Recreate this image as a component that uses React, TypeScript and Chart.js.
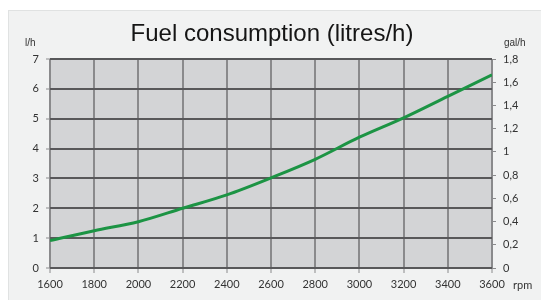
import React, { useEffect, useRef } from "react";
import { Chart, registerables } from "chart.js";

Chart.register(...registerables);

const rpm = [1600, 1800, 2000, 2200, 2400, 2600, 2800, 3000, 3200, 3400, 3600];
const litresPerHour = [0.92, 1.25, 1.55, 2.0, 2.45, 3.02, 3.64, 4.38, 5.03, 5.75, 6.47];
const leftTicks = [0, 1, 2, 3, 4, 5, 6, 7];
const rightTicks = [0, 0.2, 0.4, 0.6, 0.8, 1, 1.2, 1.4, 1.6, 1.8];

const titleText = "Fuel consumption (litres/h)";
const leftUnit = "l/h";
const rightUnit = "gal/h";
const xUnit = "rpm";

const tickFont = { family: "Lato, 'Open Sans', sans-serif", size: 11 };

function fmtComma(v: number): string {
  if (Math.abs(v - Math.round(v)) < 1e-9) return String(Math.round(v));
  return v.toFixed(1).replace(".", ",");
}

const decorPlugin = {
  id: "decor",
  beforeDraw(chart: any) {
    const { ctx, chartArea } = chart;
    ctx.save();
    ctx.fillStyle = "#d3d4d6";
    ctx.fillRect(chartArea.left, chartArea.top, chartArea.right - chartArea.left, chartArea.bottom - chartArea.top);
    ctx.restore();
  },
  afterDraw(chart: any) {
    const { ctx } = chart;
    ctx.save();
    ctx.fillStyle = "#151515";
    ctx.font = "24px 'Liberation Sans', Arial, sans-serif";
    ctx.textAlign = "center";
    ctx.textBaseline = "middle";
    ctx.fillText(titleText, 272, 34);
    ctx.fillStyle = "#333";
    ctx.font = "10px 'Liberation Sans', Arial, sans-serif";
    ctx.textAlign = "left";
    ctx.fillText(leftUnit, 25, 43);
    ctx.fillText(rightUnit, 504, 43);
    ctx.font = "11px Lato, 'Open Sans', sans-serif";
    ctx.fillText(xUnit, 513, 285);
    ctx.restore();
  },
};

export default function App() {
  const ref = useRef<HTMLCanvasElement>(null);
  useEffect(() => {
    if (!ref.current) return;
    const chart = new Chart(ref.current, {
      type: "line",
      data: {
        labels: rpm.map(String),
        datasets: [
          {
            data: rpm.map((x, i) => ({ x, y: litresPerHour[i] })),
            borderColor: "#1c9444",
            borderWidth: 3,
            pointRadius: 0,
            tension: 0.4,
            cubicInterpolationMode: "monotone",
            fill: false,
            yAxisID: "y",
          },
        ],
      },
      plugins: [decorPlugin],
      options: {
        animation: false,
        responsive: false,
        maintainAspectRatio: false,
        layout: { padding: { top: 59, left: 0, right: 0, bottom: 0 } },
        plugins: { legend: { display: false }, tooltip: { enabled: false }, title: { display: false } },
        scales: {
          x: {
            type: "linear",
            min: 1600,
            max: 3600,
            afterBuildTicks(scale: any) {
              scale.ticks = rpm.map((v) => ({ value: v }));
            },
            afterFit(scale: any) {
              scale.height = 32;
            },
            border: { display: false },
            grid: {
              color: "#8a8a8c",
              lineWidth: 2,
              tickLength: 5,
              tickColor: "#8a8a8c",
              tickWidth: 1,
            },
            ticks: {
              font: tickFont,
              color: "#333",
              padding: 5,
              maxRotation: 0,
              autoSkip: false,
              callback: (v: any) => String(v),
            },
          },
          y: {
            type: "linear",
            position: "left",
            min: 0,
            max: 7,
            afterBuildTicks(scale: any) {
              scale.ticks = leftTicks.map((v) => ({ value: v }));
            },
            afterFit(scale: any) {
              scale.width = 50;
            },
            border: { display: false },
            grid: {
              color: "#58585a",
              lineWidth: 2,
              tickLength: 4,
              tickColor: "#8a8a8c",
              tickWidth: 1,
            },
            ticks: { font: tickFont, color: "#333", padding: 7, autoSkip: false },
          },
          y2: {
            type: "linear",
            position: "right",
            min: 0,
            max: 1.8,
            afterBuildTicks(scale: any) {
              scale.ticks = rightTicks.map((v) => ({ value: v }));
            },
            afterFit(scale: any) {
              scale.width = 49;
            },
            border: { display: false },
            grid: {
              drawOnChartArea: false,
              tickLength: 4,
              tickColor: "#8a8a8c",
              tickWidth: 1,
            },
            ticks: {
              font: tickFont,
              color: "#333",
              padding: 7,
              autoSkip: false,
              callback: (v: any) => fmtComma(Number(v)),
            },
          },
        },
      },
    } as any);
    return () => chart.destroy();
  }, []);

  return (
    <div style={{ position: "fixed", left: 0, top: 0, width: 541, height: 300, background: "#ffffff", overflow: "hidden" }}>
      <div
        style={{
          position: "absolute",
          left: 8,
          top: 10,
          width: 540,
          height: 297,
          background: "#f1f2f2",
          border: "1px solid #e0e2e2",
        }}
      />
      <canvas ref={ref} width={541} height={300} style={{ position: "absolute", left: 0, top: 0, width: 541, height: 300 }} />
    </div>
  );
}
